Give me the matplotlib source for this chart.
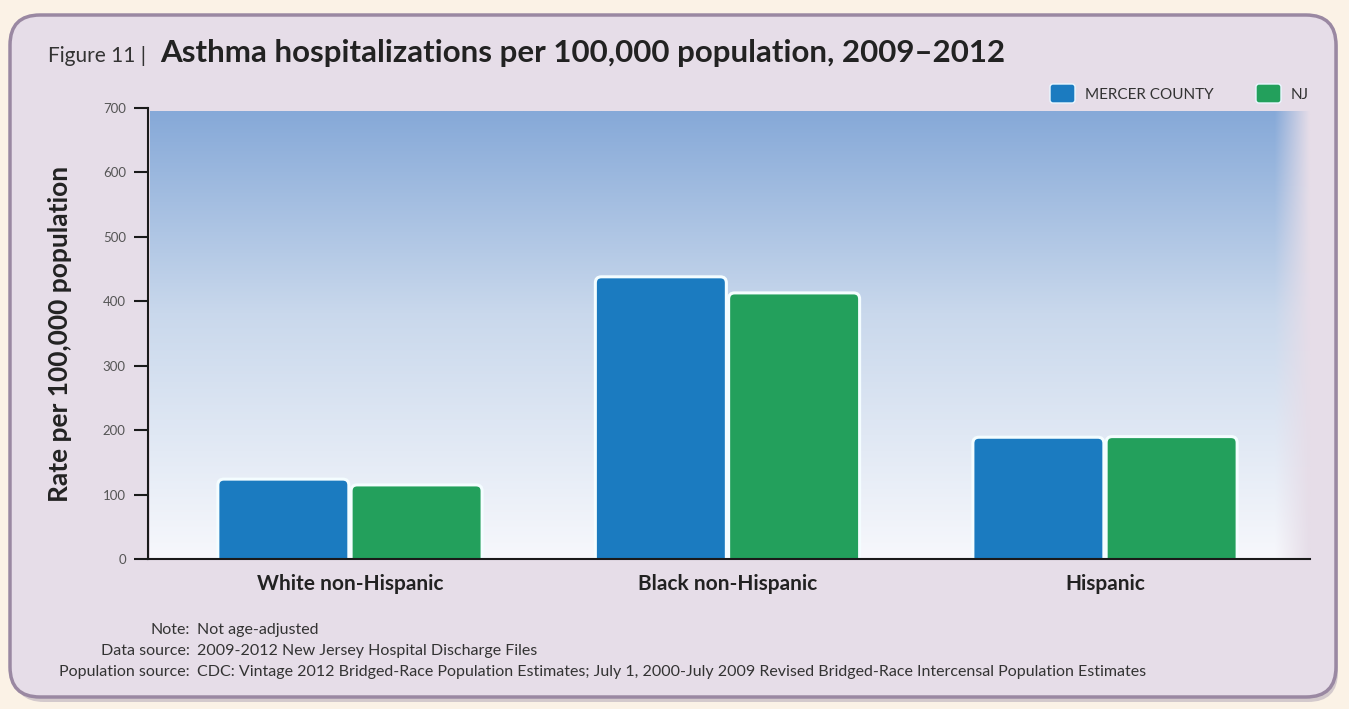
import numpy as np
import matplotlib
matplotlib.use("Agg")
import matplotlib.pyplot as plt
from matplotlib.patches import FancyBboxPatch
from matplotlib.colors import to_rgb

plt.rcParams['font.family'] = ['Lato', 'DejaVu Sans']

# ---- data ----
categories = ["White non-Hispanic", "Black non-Hispanic", "Hispanic"]
mercer = [124, 438, 189]
nj = [115, 413, 190]
series_names = ["MERCER COUNTY", "NJ"]
yticks = [0, 100, 200, 300, 400, 500, 600, 700]

BLUE = "#1b7bc0"
GREEN = "#23a05c"
PAGE = "#fbf2e6"
PANEL = "#e6dde8"
BORDER = "#9a88a2"

W, H = 1349, 709
fig = plt.figure(figsize=(W / 100, H / 100), dpi=100)
fig.patch.set_facecolor(PAGE)

# rounded panel behind everything
bg = fig.add_axes([0, 0, 1, 1], zorder=-10)
bg.set_xlim(0, W)
bg.set_ylim(H, 0)
bg.axis("off")
shadow = FancyBboxPatch((14, 20), 1324, 682, boxstyle="round,pad=0,rounding_size=30",
                        facecolor="#b9aebb", edgecolor="none", alpha=0.6)
bg.add_patch(shadow)
panel = FancyBboxPatch((10, 15), 1326, 682, boxstyle="round,pad=0,rounding_size=30",
                       facecolor=PANEL, edgecolor=BORDER, linewidth=2.5)
bg.add_patch(panel)

# title
bg.text(48, 62, "Figure 11 | ", fontsize=15, color="#333333", va="baseline", ha="left")
bg.text(160, 62, "Asthma hospitalizations per 100,000 population, 2009\u20132012",
        fontsize=22.5, fontweight="bold", color="#222222", va="baseline", ha="left")

# legend
for (x0, col), name in zip([(1050, BLUE), (1256, GREEN)], series_names):
    bg.add_patch(FancyBboxPatch((x0, 84), 25, 19, boxstyle="round,pad=0,rounding_size=3",
                                facecolor=col, edgecolor="#eaf7ff", linewidth=1))
    bg.text(x0 + 35, 95, name, fontsize=11, color="#333333", va="center", ha="left")

# notes
notes = [("Note:", "Not age-adjusted", 630),
         ("Data source:", "2009-2012 New Jersey Hospital Discharge Files", 651),
         ("Population source:", "CDC: Vintage 2012 Bridged-Race Population Estimates; July 1, 2000-July 2009 Revised Bridged-Race Intercensal Population Estimates", 672)]
for lab, val, y in notes:
    bg.text(190, y, lab, fontsize=11.5, color="#333333", ha="right", va="center")
    bg.text(197, y, val, fontsize=11.5, color="#333333", ha="left", va="center")

# ---- main axes ----
left, right, top, bottom = 148, 1310, 108, 559
ax = fig.add_axes([left / W, 1 - bottom / H, (right - left) / W, (bottom - top) / H])
ax.set_facecolor("none")

x = np.arange(len(categories))
bw = 0.347
gap = 0.006
ax.set_xlim(-0.535, 2.543)
ax.set_ylim(0, 700)

# gradient backdrop
ny, nx = 200, 400
t = np.linspace(0, 1, ny)[:, None]  # 0 top -> 1 bottom
top_c = np.array(to_rgb("#86a9d8"))
mid_c = np.array(to_rgb("#c9d8ec"))
bot_c = np.array(to_rgb("#f7f8fc"))
col = np.where(t < 0.45, (1 - t / 0.45) * top_c + (t / 0.45) * mid_c,
               (1 - (t - 0.45) / 0.55) * mid_c + ((t - 0.45) / 0.55) * bot_c)
img = np.repeat(col[:, None, :].reshape(ny, 1, 3), nx, axis=1)
u = np.linspace(0, 1, nx)[None, :]
panel_rgb = np.array(to_rgb(PANEL))
fade = np.clip((1 - u) / 0.03, 0, 1)  # soft right edge
alpha = fade[..., None] * np.ones((ny, 1, 1))
img = img * alpha + panel_rgb * (1 - alpha)
ax.imshow(img, extent=[-0.53, 2.543, 0, 695], aspect="auto", zorder=0, interpolation="bilinear")
ax.set_xlim(-0.535, 2.543)
ax.set_ylim(0, 700)

bars_m = ax.bar(x - bw / 2 - gap / 2, mercer, bw, color=BLUE, zorder=2)
bars_n = ax.bar(x + bw / 2 + gap / 2, nj, bw, color=GREEN, zorder=2)

# replace plain rectangles with rounded-top versions at the same geometry
x_px = (right - left) / (2.543 + 0.535)
y_px = (bottom - top) / 700
for bars, c in ((bars_m, BLUE), (bars_n, GREEN)):
    for b in bars:
        b.set_visible(False)
        fb = FancyBboxPatch((b.get_x(), -20), b.get_width(), b.get_height() + 20,
                            boxstyle="round,pad=0,rounding_size=0.016",
                            mutation_aspect=x_px / y_px,
                            facecolor=c, edgecolor="#f4fdff", linewidth=2.2, zorder=3)
        ax.add_patch(fb)

for s in ["top", "right"]:
    ax.spines[s].set_visible(False)
ax.spines["left"].set_color("#1a1a1a")
ax.spines["bottom"].set_color("#1a1a1a")
ax.spines["left"].set_linewidth(1.5)
ax.spines["bottom"].set_linewidth(1.5)
ax.spines["left"].set_zorder(5)
ax.spines["bottom"].set_zorder(5)

ax.set_yticks(yticks)
ax.set_yticklabels([str(v) for v in yticks], fontsize=9.5, color="#555555")
ax.tick_params(axis="y", length=10, width=1.5, color="#1a1a1a", pad=6)
ax.set_xticks(x)
ax.set_xticklabels(categories, fontsize=15, fontweight="bold", color="#222222")
ax.tick_params(axis="x", length=0, pad=11)

ax.set_ylabel("Rate per 100,000 population", fontsize=19, fontweight="bold",
              color="#222222", labelpad=22)

fig.savefig("out.png", dpi=100, facecolor=PAGE)
